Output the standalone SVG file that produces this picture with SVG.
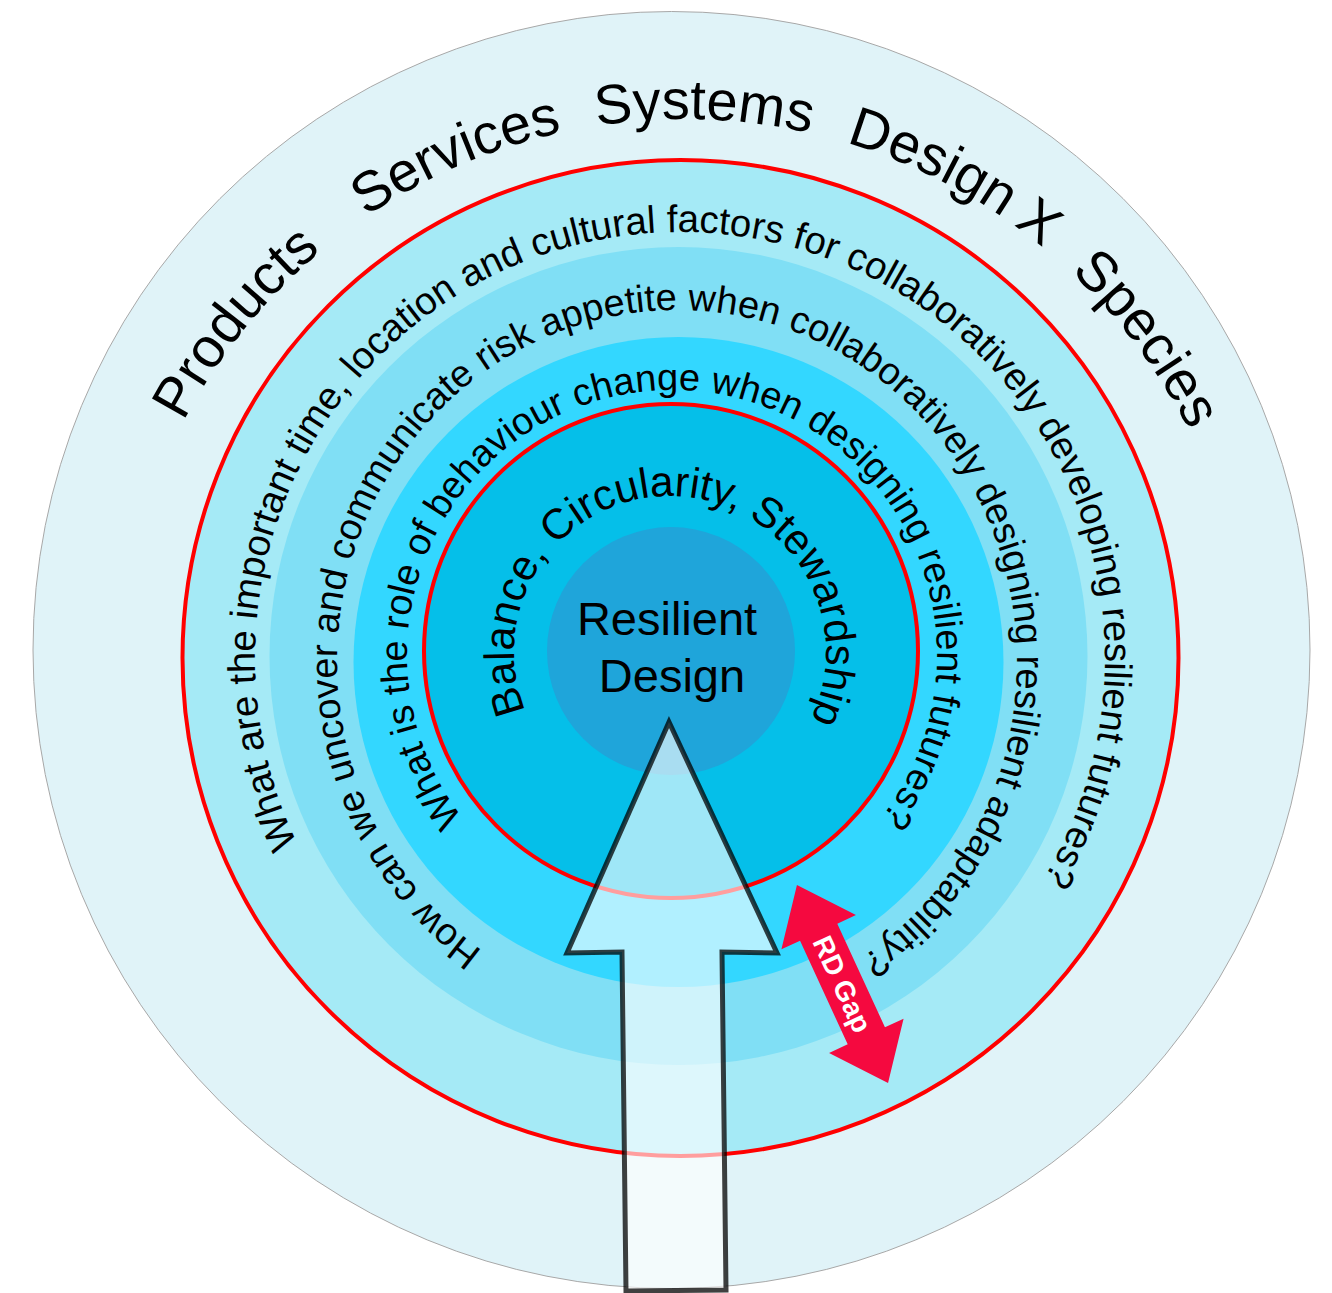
<svg xmlns="http://www.w3.org/2000/svg" xmlns:xlink="http://www.w3.org/1999/xlink" width="1332" height="1293" viewBox="0 0 1332 1293">
<style>
.t{font-family:"Liberation Sans",Arial,sans-serif;fill:#000}
.outer{font-size:56px}
.red{fill:none;stroke:#ff0000;stroke-width:4}
</style>
<defs>
<path id="pOuter" d="M684,1249 A565,565 0 1 1 684,119 A565,565 0 1 1 684,1249"/>
<path id="pR1" d="M680,1084 A425,426 0 1 1 680,232 A425,426 0 1 1 680,1084"/>
<path id="pR2" d="M677,1014 A340,352 0 1 1 677,310 A340,352 0 1 1 677,1014"/>
<path id="pR3" d="M672,920 A265,265 0 1 1 672,390 A265,265 0 1 1 672,920"/>
<path id="pIn" d="M670,808 A156,156 0 1 1 670,496 A156,156 0 1 1 670,808"/>
</defs>
<rect width="1332" height="1293" fill="#ffffff"/>
<g id="disk-outer">
<circle cx="671.5" cy="650" r="638.5" fill="#e0f3f8" stroke="#a8a8a8" stroke-width="1"/>
<text class="t outer"><textPath href="#pOuter" startOffset="35.80%" text-anchor="middle">Products</textPath></text>
<text class="t outer"><textPath href="#pOuter" startOffset="43.52%" text-anchor="middle">Services</textPath></text>
<text class="t outer"><textPath href="#pOuter" startOffset="50.56%" text-anchor="middle">Systems</textPath></text>
<text class="t outer"><textPath href="#pOuter" startOffset="57.08%" text-anchor="middle">Design</textPath></text>
<text class="t outer"><textPath href="#pOuter" startOffset="60.43%" text-anchor="middle">X</textPath></text>
<text class="t outer"><textPath href="#pOuter" startOffset="64.80%" text-anchor="middle">Species</textPath></text>
</g>
<g id="ring-1">
<circle cx="680.5" cy="658" r="498" fill="#a5eaf6"/>
<circle cx="680.5" cy="658" r="498" class="red"/>
</g>
<g id="ring-2">
<circle cx="678.5" cy="656" r="409" fill="#80dff5"/>
</g>
<g id="ring-3">
<circle cx="678.5" cy="662" r="325" fill="#33d7ff"/>
</g>
<g id="ring-inner">
<circle cx="671" cy="651" r="247" fill="#05bfe9"/>
<circle cx="671" cy="651" r="247" class="red"/>
</g>
<g id="core">
<circle cx="671" cy="651" r="124" fill="#1fa5da"/>
<text class="t" font-size="47" text-anchor="middle" x="667" y="635">Resilient</text>
<text class="t" font-size="47" text-anchor="middle" x="672" y="692">Design</text>
</g>
<g id="ring-texts">
<text class="t" font-size="38.4"><textPath href="#pR1" startOffset="50.75%" text-anchor="middle">What are the important time, location and cultural factors for collaboratively developing resilient futures?</textPath></text>
<text class="t" font-size="38"><textPath href="#pR2" startOffset="50.3%" text-anchor="middle">How can we uncover and communicate risk appetite when collaboratively designing resilient adaptability?</textPath></text>
<text class="t" font-size="38"><textPath href="#pR3" startOffset="50%" text-anchor="middle">What is the role of behaviour change when designing resilient futures?</textPath></text>
<text class="t" font-size="42.5"><textPath href="#pIn" startOffset="50.5%" text-anchor="middle">Balance, Circularity, Stewardship</textPath></text>
</g>
<g id="arrow-up">
<polygon points="669,722 567,953 622,952 626,1291 726,1290 722,952 777,953" fill="#ffffff" fill-opacity="0.62" stroke="#000000" stroke-opacity="0.75" stroke-width="5" stroke-linejoin="miter"/>
</g>
<g id="connectors">
<g id="rd-gap" transform="translate(842.5,984) rotate(65.3)">
<polygon points="-109,0 -57,-41 -57,-20.5 57,-20.5 57,-41 109,0 57,41 57,20.5 -57,20.5 -57,41" fill="#f5093f"/>
<text x="0" y="10" text-anchor="middle" font-family="Liberation Sans, Arial, sans-serif" font-weight="bold" font-size="28" fill="#ffffff">RD Gap</text>
</g>
</g>
</svg>
